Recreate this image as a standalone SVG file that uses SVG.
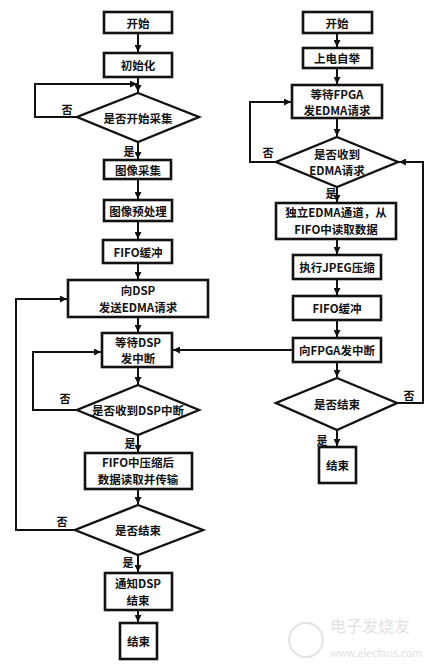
<svg xmlns="http://www.w3.org/2000/svg" width="436" height="668" viewBox="0 0 436 668">
<defs>
<marker id="ah" viewBox="0 0 8 8" refX="8" refY="4" markerWidth="7" markerHeight="7" markerUnits="userSpaceOnUse" orient="auto">
<path d="M0,0 L8,4 L0,8 z" fill="#111"/>
</marker>
<style>
.b{fill:#fff;stroke:#111;stroke-width:2.6}
.d{fill:#fff;stroke:#111;stroke-width:2.4}
.t{font-family:"Noto Sans CJK SC","Noto Sans",sans-serif;font-weight:bold;font-size:11.5px;fill:#111;text-anchor:middle;dominant-baseline:central}
.l{font-family:"Noto Sans CJK SC",sans-serif;font-weight:bold;font-size:11px;fill:#111;text-anchor:middle;dominant-baseline:central}
.c{fill:none;stroke:#111;stroke-width:2}
.w{font-family:"Noto Sans CJK SC",sans-serif;fill:#e2e2e2}
</style>
</defs>
<rect width="436" height="668" fill="#fff"/>
<g id="connectors">
<path class="c" d="M138,33 V52" marker-end="url(#ah)"/>
<path class="c" d="M138,77 V92" marker-end="url(#ah)"/>
<path class="c" d="M77,117 H35 V84 H137" marker-end="url(#ah)"/>
<path class="c" d="M138,142 V159" marker-end="url(#ah)"/>
<path class="c" d="M138,179 V199" marker-end="url(#ah)"/>
<path class="c" d="M138,221 V239" marker-end="url(#ah)"/>
<path class="c" d="M138,263 V279" marker-end="url(#ah)"/>
<path class="c" d="M138,317 V332" marker-end="url(#ah)"/>
<path class="c" d="M138,367 V384" marker-end="url(#ah)"/>
<path class="c" d="M77,410 H33 V352 H101" marker-end="url(#ah)"/>
<path class="c" d="M138,435 V452" marker-end="url(#ah)"/>
<path class="c" d="M138,489 V504" marker-end="url(#ah)"/>
<path class="c" d="M75,530 H16 V299 H67" marker-end="url(#ah)"/>
<path class="c" d="M138,555 V572" marker-end="url(#ah)"/>
<path class="c" d="M138,610 V622" marker-end="url(#ah)"/>
<path class="c" d="M337,33 V47" marker-end="url(#ah)"/>
<path class="c" d="M337,68 V84" marker-end="url(#ah)"/>
<path class="c" d="M337,118 V136" marker-end="url(#ah)"/>
<path class="c" d="M276,162 H250 V102 H291" marker-end="url(#ah)"/>
<path class="c" d="M337,187 V202" marker-end="url(#ah)"/>
<path class="c" d="M337,239 V254" marker-end="url(#ah)"/>
<path class="c" d="M337,279 V295" marker-end="url(#ah)"/>
<path class="c" d="M337,320 V337" marker-end="url(#ah)"/>
<path class="c" d="M293,350 H173" marker-end="url(#ah)"/>
<path class="c" d="M337,362 V377" marker-end="url(#ah)"/>
<path class="c" d="M397,403 H423 V162 H399" marker-end="url(#ah)"/>
<path class="c" d="M337,430 V446" marker-end="url(#ah)"/>
<text class="l" x="67" y="109">否</text>
<text class="l" x="129" y="151">是</text>
<text class="l" x="65" y="398">否</text>
<text class="l" x="130" y="443">是</text>
<text class="l" x="62" y="521">否</text>
<text class="l" x="128" y="562">是</text>
<text class="l" x="268" y="152">否</text>
<text class="l" x="331" y="193">是</text>
<text class="l" x="409" y="395">否</text>
<text class="l" x="322" y="440">是</text>
</g>
<g id="L1"><rect class="b" x="104" y="12" width="68" height="21"/><text class="t" x="138" y="22.5">开始</text></g>
<g id="L2"><rect class="b" x="104" y="53" width="68" height="24"/><text class="t" x="138" y="65">初始化</text></g>
<g id="L3"><polygon class="d" points="138,93 199,117 138,142 77,117"/><text class="t" x="138" y="117.5">是否开始采集</text></g>
<g id="L4"><rect class="b" x="104" y="160" width="67" height="19"/><text class="t" x="138" y="169.5">图像采集</text></g>
<g id="L5"><rect class="b" x="104" y="200" width="68" height="21"/><text class="t" x="138" y="210.5">图像预处理</text></g>
<g id="L6"><rect class="b" x="103" y="240" width="69" height="23"/><text class="t" x="138" y="251.5">FIFO缓冲</text></g>
<g id="L7"><rect class="b" x="68" y="280" width="140" height="37"/><text class="t" x="138" y="290">向DSP</text><text class="t" x="138" y="307">发送EDMA请求</text></g>
<g id="L8"><rect class="b" x="102" y="333" width="70" height="34"/><text class="t" x="138" y="342">等待DSP</text><text class="t" x="138" y="358">发中断</text></g>
<g id="L9"><polygon class="d" points="138,385 199,410 138,435 77,410"/><text class="t" x="138" y="410">是否收到DSP中断</text></g>
<g id="L10"><rect class="b" x="85" y="453" width="107" height="36"/><text class="t" x="138" y="462">FIFO中压缩后</text><text class="t" x="138" y="479">数据读取并传输</text></g>
<g id="L11"><polygon class="d" points="138,505 203,530 138,555 75,530"/><text class="t" x="138" y="530">是否结束</text></g>
<g id="L12"><rect class="b" x="105" y="573" width="67" height="37"/><text class="t" x="138" y="583">通知DSP</text><text class="t" x="138" y="600">结束</text></g>
<g id="L13"><rect class="b" x="120" y="623" width="37" height="36"/><text class="t" x="138.5" y="641">结束</text></g>
<g id="R1"><rect class="b" x="303" y="12" width="69" height="21"/><text class="t" x="337" y="22.5">开始</text></g>
<g id="R2"><rect class="b" x="303" y="48" width="69" height="20"/><text class="t" x="337" y="58">上电自举</text></g>
<g id="R3"><rect class="b" x="292" y="85" width="90" height="33"/><text class="t" x="337" y="94">等待FPGA</text><text class="t" x="337" y="110">发EDMA请求</text></g>
<g id="R4"><polygon class="d" points="337,137 398,162 337,187 276,162"/><text class="t" x="337" y="154">是否收到</text><text class="t" x="337" y="170">EDMA请求</text></g>
<g id="R5"><rect class="b" x="276" y="203" width="120" height="36"/><text class="t" x="336" y="212">独立EDMA通道，从</text><text class="t" x="336" y="229">FIFO中读取数据</text></g>
<g id="R6"><rect class="b" x="293" y="255" width="88" height="24"/><text class="t" x="337" y="267">执行JPEG压缩</text></g>
<g id="R7"><rect class="b" x="293" y="296" width="88" height="24"/><text class="t" x="337" y="308">FIFO缓冲</text></g>
<g id="R8"><rect class="b" x="293" y="338" width="88" height="24"/><text class="t" x="337" y="350">向FPGA发中断</text></g>
<g id="R9"><polygon class="d" points="337,378 397,403 337,430 276,403"/><text class="t" x="337" y="404">是否结束</text></g>
<g id="R10"><rect class="b" x="319" y="447" width="37" height="36"/><text class="t" x="337.5" y="465">结束</text></g>
<g id="watermark">
<circle cx="306" cy="640" r="17" fill="none" stroke="#e4e4e4" stroke-width="2"/>
<text class="w" x="330" y="632" font-size="16">电子发烧友</text>
<text class="w" x="330" y="657" font-size="10.5">www.elecfans.com</text>
</g>
</svg>
